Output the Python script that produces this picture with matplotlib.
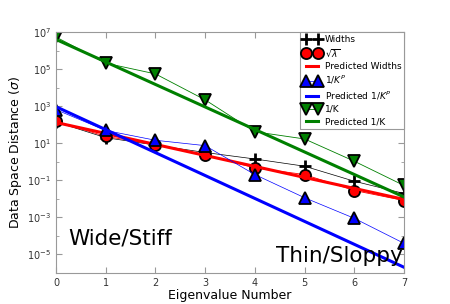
import numpy as np
import matplotlib
matplotlib.use('Agg')
import matplotlib.pyplot as plt
from matplotlib.ticker import FixedLocator, FixedFormatter, NullFormatter

# eigenvalue index
eig_num = [0, 1, 2, 3, 4, 5, 6, 7]

# log10 values
widths_log = [2.15, 1.30, 0.90, 0.50, 0.15, -0.24, -1.05, -1.71]
sqrt_lam_log = [2.18, 1.37, 0.92, 0.37, -0.33, -0.69, -1.55, -2.09]
inv_kp_log = [2.81, 1.69, 1.16, 0.87, -0.69, -1.94, -3.05, -4.40]
inv_k_log = [6.73, 5.32, 4.74, 3.34, 1.62, 1.23, 0.03, -1.28]

# predicted lines (endpoints in log10)
pred_widths_log = [2.12, -2.03]
pred_kp_log = [2.97, -5.69]
pred_k_log = [6.60, -1.90]

x = np.array(eig_num)
def lin(ends):
    return 10 ** np.linspace(ends[0], ends[1], len(x))

fig = plt.figure(figsize=(4.5, 3.04), dpi=100)
ax = fig.add_axes([56 / 450, 1 - 273 / 304, 348 / 450, 241 / 304])

ax.semilogy(x, 10 ** np.array(widths_log), '-', color='k', lw=0.5,
            marker='+', ms=9, mew=2, mec='k', label='Widths')
ax.semilogy(x, 10 ** np.array(sqrt_lam_log), '-', color='r', lw=0.6,
            marker='o', ms=8, mfc='r', mec='k', mew=1.3, label=r'$\sqrt{\lambda}$')
ax.semilogy(x, lin(pred_widths_log), '-', color='r', lw=2.2, label='Predicted Widths')
ax.semilogy(x, 10 ** np.array(inv_kp_log), '-', color='b', lw=0.5,
            marker='^', ms=8, mfc='b', mec='k', mew=1.3, label=r'$1/K^P$')
ax.semilogy(x, lin(pred_kp_log), '-', color='b', lw=2.2, label=r'Predicted $1/K^P$')
ax.semilogy(x, 10 ** np.array(inv_k_log), '-', color='g', lw=0.6,
            marker='v', ms=9, mfc='g', mec='k', mew=1.3, label='1/K')
ax.semilogy(x, lin(pred_k_log), '-', color='g', lw=2.2, label='Predicted 1/K')

ax.set_xlim(0, 7)
ax.set_ylim(1e-6, 1e7)

ymaj = [10.0 ** e for e in range(-5, 8, 2)]
ax.yaxis.set_major_locator(FixedLocator(ymaj))
ax.yaxis.set_major_formatter(FixedFormatter(['$10^{%d}$' % e for e in range(-5, 8, 2)]))
ax.yaxis.set_minor_locator(FixedLocator([10.0 ** e for e in range(-6, 8, 2)]))
ax.yaxis.set_minor_formatter(NullFormatter())
ax.set_xticks(eig_num)

for s in ax.spines.values():
    s.set_color('#999999')
ax.tick_params(which='both', direction='in', top=True, right=True,
               labelsize=7, colors='#999999', labelcolor='#333333')
ax.tick_params(which='major', length=4)
ax.tick_params(which='minor', length=2)

ax.set_xlabel('Eigenvalue Number', fontsize=9, labelpad=1)
ax.set_ylabel(r'Data Space Distance ($\sigma$)', fontsize=9, labelpad=2)

ax.text(0.035, 0.12, 'Wide/Stiff', transform=ax.transAxes, fontsize=15.5,
        ha='left', va='baseline')
ax.text(0.995, 0.045, 'Thin/Sloppy', transform=ax.transAxes, fontsize=15.5,
        ha='right', va='baseline')

leg = ax.legend(loc='upper right', fontsize=6.5, numpoints=2, borderaxespad=0,
                labelspacing=0.35, handlelength=2.0, handletextpad=0.4,
                borderpad=0.3, fancybox=False, framealpha=1)
leg.get_frame().set_edgecolor('#999999')
leg.get_frame().set_linewidth(0.8)

fig.savefig('out.png', dpi=100)
